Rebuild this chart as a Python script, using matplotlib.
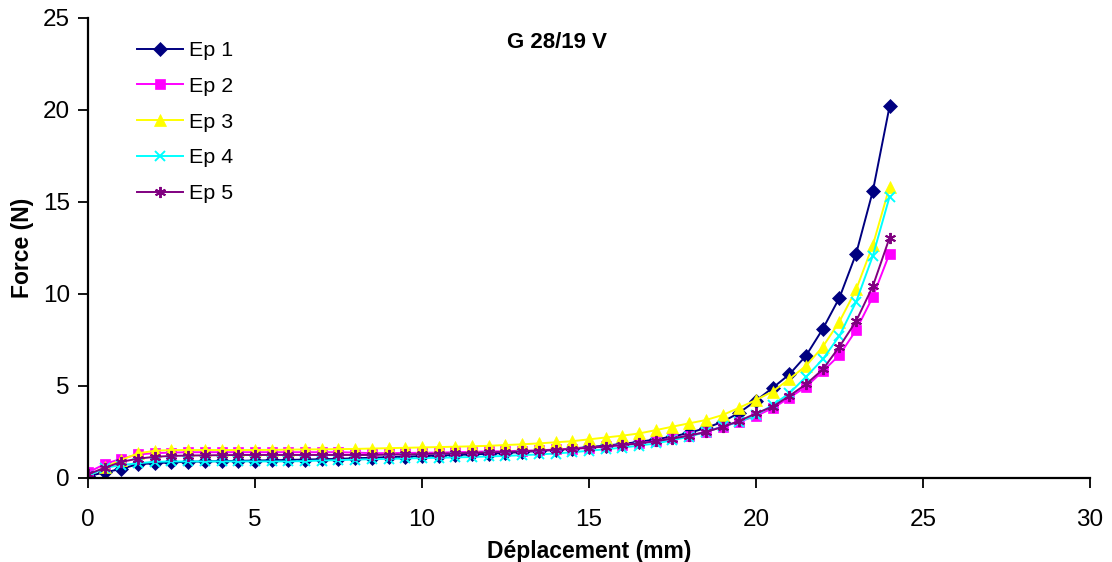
import matplotlib
matplotlib.use("Agg")
import matplotlib.pyplot as plt
import numpy as np

plt.rcParams['font.family'] = ['Liberation Sans', 'DejaVu Sans']

# Displacement (mm), one reading every 0.5 mm
deplacement = np.arange(0, 24.01, 0.5)

ep1 = [0.1, 0.3, 0.5, 0.75, 0.8, 0.85, 0.88, 0.9, 0.92, 0.93, 0.95, 0.96, 0.98,
       1.0, 1.02, 1.04, 1.07, 1.1, 1.13, 1.16, 1.19, 1.22, 1.25, 1.28, 1.32,
       1.36, 1.41, 1.47, 1.53, 1.6, 1.68, 1.76, 1.85, 1.96, 2.1, 2.25, 2.45,
       2.72, 3.05, 3.55, 4.2, 4.9, 5.63, 6.65, 8.1, 9.8, 12.2, 15.6, 20.2]
ep2 = [0.3, 0.75, 1.05, 1.28, 1.35, 1.38, 1.4, 1.4, 1.4, 1.4, 1.4, 1.4, 1.4,
       1.4, 1.4, 1.4, 1.38, 1.35, 1.35, 1.36, 1.37, 1.38, 1.4, 1.42, 1.44,
       1.46, 1.48, 1.5, 1.55, 1.6, 1.65, 1.72, 1.8, 1.9, 2.0, 2.15, 2.3,
       2.5, 2.79, 3.06, 3.37, 3.79, 4.36, 4.96, 5.8, 6.68, 8.04, 9.85, 12.2]
ep3 = [0.1, 0.6, 0.98, 1.34, 1.48, 1.52, 1.52, 1.52, 1.52, 1.52, 1.52, 1.53,
       1.54, 1.55, 1.56, 1.57, 1.58, 1.6, 1.62, 1.64, 1.66, 1.68, 1.7, 1.72,
       1.75, 1.79, 1.83, 1.88, 1.94, 2.0, 2.1, 2.2, 2.3, 2.42, 2.6, 2.79,
       2.97, 3.15, 3.42, 3.82, 4.24, 4.7, 5.38, 6.1, 7.13, 8.5, 10.25, 12.66,
       15.83]
ep4 = [0.1, 0.55, 0.7, 0.8, 0.88, 0.9, 0.9, 0.9, 0.9, 0.9, 0.9, 0.9, 0.9,
       0.92, 0.95, 0.97, 1.0, 1.02, 1.04, 1.06, 1.08, 1.1, 1.12, 1.14, 1.17,
       1.2, 1.24, 1.28, 1.33, 1.4, 1.48, 1.56, 1.65, 1.76, 1.88, 2.05, 2.25,
       2.5, 2.8, 3.05, 3.42, 3.97, 4.6, 5.5, 6.45, 7.73, 9.58, 12.08, 15.29]
ep5 = [0.2, 0.55, 0.88, 1.05, 1.15, 1.2, 1.22, 1.23, 1.24, 1.25, 1.25, 1.25,
       1.25, 1.25, 1.25, 1.25, 1.25, 1.25, 1.27, 1.28, 1.3, 1.32, 1.34, 1.36,
       1.39, 1.42, 1.45, 1.49, 1.53, 1.58, 1.64, 1.71, 1.79, 1.88, 2.0, 2.14,
       2.3, 2.5, 2.78, 3.1, 3.51, 3.88, 4.46, 5.1, 5.9, 7.14, 8.53, 10.43,
       13.06]

labels = ['Ep 1', 'Ep 2', 'Ep 3', 'Ep 4', 'Ep 5']
series = [ep1, ep2, ep3, ep4, ep5]
colors = ['#000080', '#FF00FF', '#FFFF00', '#00FFFF', '#800080']
markers = ['D', 's', '^', 'x', (6, 2, 0)]
msizes = [7, 7, 8.5, 7, 8]

x_ticks = [0, 5, 10, 15, 20, 25, 30]
y_ticks = [0, 5, 10, 15, 20, 25]

fig = plt.figure(figsize=(11.12, 5.62), dpi=100)
ax = fig.add_axes([0.0791, 0.1495, 0.9011, 0.8185])

for lab, ys, c, m, ms in zip(labels, series, colors, markers, msizes):
    ax.plot(deplacement, ys, color=c, marker=m, markersize=ms, linewidth=1.4,
            markeredgewidth=1.4 if m in ('x', (6, 2, 0)) else 0.5,
            markeredgecolor=c, markerfacecolor=c, label=lab)

ax.set_xlim(0, 30)
ax.set_ylim(0, 25)
ax.set_xticks(x_ticks)
ax.set_yticks(y_ticks)
ax.spines['top'].set_visible(False)
ax.spines['right'].set_visible(False)
for s in ('left', 'bottom'):
    ax.spines[s].set_linewidth(1.6)
ax.tick_params(axis='both', direction='out', length=7, width=1.3,
               labelsize=17.5)
ax.tick_params(axis='x', pad=15.5)
ax.tick_params(axis='y', pad=6)

ax.set_xlabel('Déplacement (mm)', fontsize=16.5, fontweight='bold', labelpad=6)
ax.set_ylabel('Force (N)', fontsize=16.5, fontweight='bold', labelpad=6.5)
ax.text(0.468, 0.946, 'G 28/19 V', transform=ax.transAxes, ha='center',
        va='center', fontsize=16, fontweight='bold')

ax.legend(loc='upper left', bbox_to_anchor=(0.040, 0.968), frameon=False,
          fontsize=15.4, handlelength=2.15, handletextpad=0.3,
          labelspacing=0.78, borderaxespad=0)

fig.savefig('out.png', dpi=100)
